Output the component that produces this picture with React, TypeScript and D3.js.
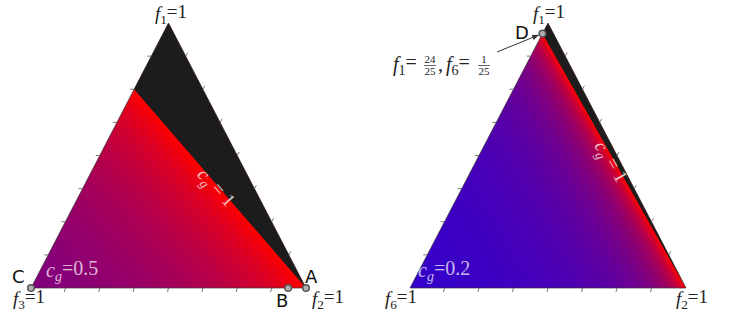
import React from 'react';
import * as d3 from 'd3';

// c_g at each corner: [top (f1), right (f2), left (f3 / f6)]; 1/c_g^2 mixes linearly
const leftCg = [Infinity, 1, 0.5];
const rightCg = [Infinity, 1, 0.2];
const tickCount = 8;

// marked points as [f1, f2]
const leftPoints = [
  { name: 'A', f: [0, 1] },
  { name: 'B', f: [0, 0.935] },
  { name: 'C', f: [0, 0] },
];
const rightPoints = [{ name: 'D', f: [24 / 25, 0] }];

const cgColor = (c: number) => d3.rgb(255 * c, 0, 255 * (1 - c)).toString();

type TriProps = {
  id: string;
  x0: number;
  x1: number;
  apexY: number;
  baseY: number;
  cg: number[];
  cgText: string;
  cgTextPos: [number, number];
  lineLabel: [number, number];
};

const Sub = ({ s, italic }: { s: string; italic?: boolean }) => (
  <tspan fontSize="0.7em" dy="0.3em" fontStyle={italic ? 'italic' : 'normal'}>
    {s}
  </tspan>
);

const Ternary = ({ id, x0, x1, apexY, baseY, cg, cgText, cgTextPos, lineLabel }: TriProps) => {
  const xs = d3.scaleLinear().domain([0, 1]).range([x0, x1]);
  const ys = d3.scaleLinear().domain([0, 1]).range([baseY, apexY]);
  const pt = (f1: number, f2: number): [number, number] => [xs(f2 + f1 / 2), ys(f1)];
  const w = cg.map((c) => 1 / (c * c));
  const L = (f1: number, f2: number) => f1 * w[0] + f2 * w[1] + (1 - f1 - f2) * w[2];

  const top = pt(1, 0);
  const right = pt(0, 1);
  const left = pt(0, 0);

  // L as affine in screen coords
  const Lxy = (x: number, y: number) => {
    const f1 = ys.invert(y);
    const f2 = xs.invert(x) - f1 / 2;
    return L(f1, f2);
  };
  const a = Lxy(1, 0) - Lxy(0, 0);
  const b = Lxy(0, 1) - Lxy(0, 0);
  const g2 = a * a + b * b;
  const Lmax = w[2];
  const start = right;
  const end: [number, number] = [start[0] + (a * (Lmax - 1)) / g2, start[1] + (b * (Lmax - 1)) / g2];
  const stops = d3.range(0, 61).map((i) => {
    const t = i / 60;
    const c = 1 / Math.sqrt(1 + t * (Lmax - 1));
    return { offset: t, color: cgColor(c) };
  });

  // c_g = 1 on the left edge
  const fP = (1 - w[2]) / (w[0] - w[2]);
  const P = pt(fP, 0);

  const line = d3.line();
  const ticks = d3.range(1, tickCount).map((i) => i / tickCount);
  const angle = (Math.atan2(right[1] - P[1], right[0] - P[0]) * 180) / Math.PI;

  return (
    <g>
      <defs>
        <linearGradient id={id} gradientUnits="userSpaceOnUse" x1={start[0]} y1={start[1]} x2={end[0]} y2={end[1]}>
          {stops.map((s, i) => (
            <stop key={i} offset={s.offset} stopColor={s.color} />
          ))}
        </linearGradient>
      </defs>
      <path d={line([top, right, left])! + 'Z'} fill={`url(#${id})`} />
      <path d={line([top, right, P])! + 'Z'} fill="#1c1c1c" />
      <path d={line([top, right, left])! + 'Z'} fill="none" stroke="#333" strokeWidth={0.7} />
      {ticks.map((t) => {
        const l = pt(t, 0);
        const r = pt(t, 1 - t);
        const bt = pt(0, t);
        return (
          <g key={t} stroke="#555" strokeWidth={0.8}>
            <line x1={l[0]} y1={l[1]} x2={l[0] - 4} y2={l[1]} />
            <line x1={r[0]} y1={r[1]} x2={r[0] + 2} y2={r[1] - 3.5} />
            <line x1={bt[0]} y1={bt[1]} x2={bt[0] - 1} y2={bt[1] + 4} />
          </g>
        );
      })}
      <text
        x={cgTextPos[0]}
        y={cgTextPos[1]}
        fontFamily="Liberation Serif"
        fontSize={20}
        fill="#fff"
        fillOpacity={0.72}
      >
        <tspan fontStyle="italic">c</tspan>
        <Sub s="g" italic />
        <tspan dy="-0.3em">={cgText}</tspan>
      </text>
      <text
        transform={`translate(${lineLabel[0]},${lineLabel[1]}) rotate(${angle})`}
        textAnchor="middle"
        fontFamily="Liberation Serif"
        fontSize={19}
        fill="#fff"
        fillOpacity={0.75}
      >
        <tspan fontStyle="italic">c</tspan>
        <Sub s="g" italic />
        <tspan dy="-0.3em"> = 1</tspan>
      </text>
    </g>
  );
};

const VLabel = ({ x, y, sub }: { x: number; y: number; sub: string }) => (
  <text x={x} y={y} textAnchor="middle" fontFamily="Liberation Serif" fontSize={19} fill="#222">
    <tspan fontStyle="italic">f</tspan>
    <Sub s={sub} />
    <tspan dy="-0.3em">=1</tspan>
  </text>
);

const Marker = ({ p }: { p: [number, number] }) => (
  <circle cx={p[0]} cy={p[1]} r={3.3} fill="#b0b0b0" stroke="#555" strokeWidth={1.5} />
);

const Frac = ({ x, n, d }: { x: number; n: string; d: string }) => (
  <g fontFamily="Liberation Serif" fontSize={11} fill="#222" textAnchor="middle">
    <text x={x} y={63}>{n}</text>
    <line x1={x - 6} x2={x + 6} y1={65.5} y2={65.5} stroke="#222" strokeWidth={0.7} />
    <text x={x} y={75}>{d}</text>
  </g>
);

const App = () => {
  const lx = d3.scaleLinear().domain([0, 1]).range([31, 306]);
  const ly = d3.scaleLinear().domain([0, 1]).range([288, 23]);
  const rx = d3.scaleLinear().domain([0, 1]).range([410, 686]);
  const ry = d3.scaleLinear().domain([0, 1]).range([288, 23]);
  const lp = (f: number[]): [number, number] => [lx(f[1] + f[0] / 2), ly(f[0])];
  const rp = (f: number[]): [number, number] => [rx(f[1] + f[0] / 2), ry(f[0])];
  const D = rp(rightPoints[0].f);

  return (
    <svg width={747} height={314} style={{ position: 'absolute', left: 0, top: 0 }}>
      <rect width={747} height={314} fill="#fff" />
      <defs>
        <marker id="arr" viewBox="0 0 10 10" refX={9} refY={5} markerWidth={7} markerHeight={7} orient="auto">
          <path d="M0,1 L10,5 L0,9 Z" fill="#333" />
        </marker>
      </defs>
      <Ternary
        id="gl"
        x0={31}
        x1={306}
        apexY={23}
        baseY={288}
        cg={leftCg}
        cgText="0.5"
        cgTextPos={[46, 277]}
        lineLabel={[211, 192]}
      />
      <Ternary
        id="gr"
        x0={410}
        x1={686}
        apexY={23}
        baseY={288}
        cg={rightCg}
        cgText="0.2"
        cgTextPos={[418, 277]}
        lineLabel={[605, 165]}
      />

      <VLabel x={171} y={20} sub="1" />
      <VLabel x={29} y={305} sub="3" />
      <VLabel x={328} y={305} sub="2" />
      <VLabel x={549} y={20} sub="1" />
      <VLabel x={401} y={305} sub="6" />
      <VLabel x={692} y={305} sub="2" />

      {leftPoints.map((p) => (
        <Marker key={p.name} p={lp(p.f)} />
      ))}
      <Marker p={D} />

      <g fontFamily="DejaVu Sans" fontSize={18} fill="#111">
        <text x={12} y={283}>C</text>
        <text x={305} y={283}>A</text>
        <text x={276} y={307}>B</text>
        <text x={515} y={39}>D</text>
      </g>

      <line x1={497} y1={52} x2={D[0] - 4} y2={D[1] + 1.5} stroke="#333" strokeWidth={1} markerEnd="url(#arr)" />
      <text x={393} y={71} fontFamily="Liberation Serif" fontSize={20} fill="#222">
        <tspan fontStyle="italic">f</tspan>
        <Sub s="1" />
        <tspan dy="-0.3em">=</tspan>
      </text>
      <Frac x={430} n="24" d="25" />
      <text x={438} y={71} fontFamily="Liberation Serif" fontSize={20} fill="#222">
        ,
      </text>
      <text x={446} y={71} fontFamily="Liberation Serif" fontSize={20} fill="#222">
        <tspan fontStyle="italic">f</tspan>
        <Sub s="6" />
        <tspan dy="-0.3em">=</tspan>
      </text>
      <Frac x={484} n="1" d="25" />
    </svg>
  );
};

export default App;
